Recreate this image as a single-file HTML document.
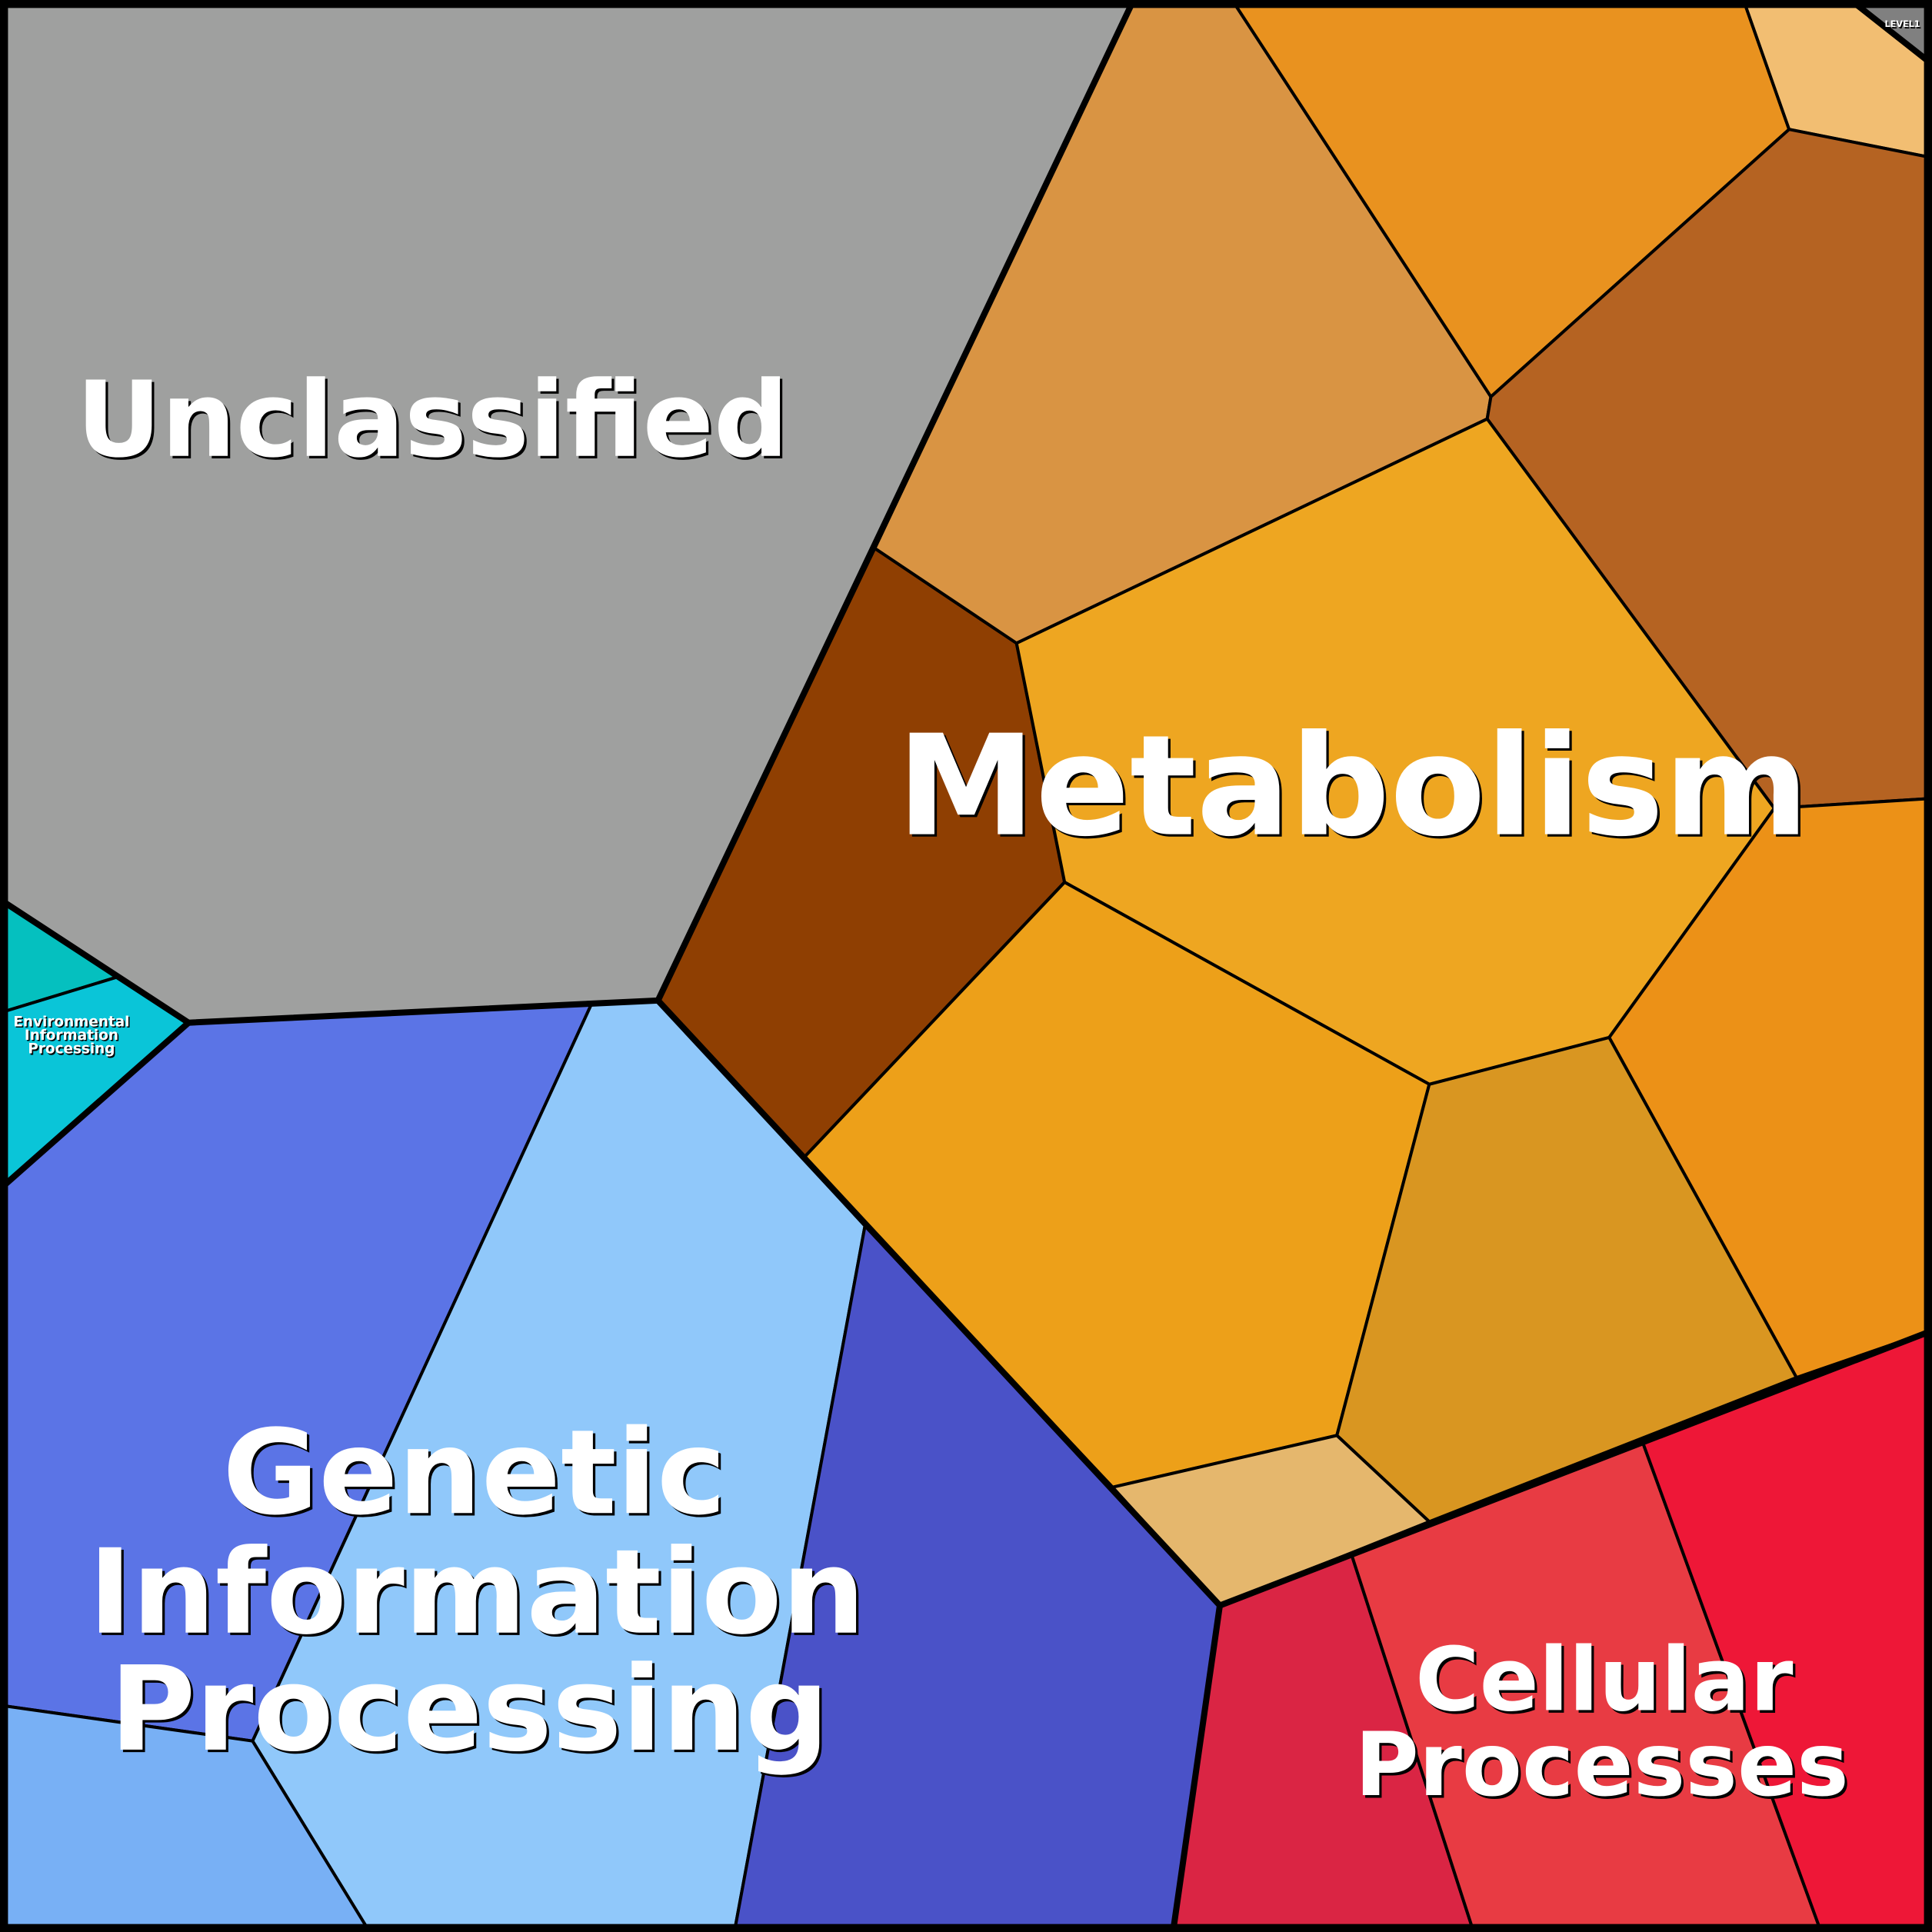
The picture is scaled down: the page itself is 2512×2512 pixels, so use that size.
<!DOCTYPE html>
<html><head><meta charset="utf-8"><style>html,body{margin:0;padding:0;background:#000}svg{display:block}
text{font-family:"DejaVu Sans","Liberation Sans",sans-serif;font-weight:bold;fill:#fff;text-anchor:middle}
.s{fill:#000}</style></head><body>
<svg width="2512" height="2512" viewBox="0 0 1568 1568" xmlns="http://www.w3.org/2000/svg">
<g stroke="#000" stroke-width="2.5" stroke-linejoin="round">
<polygon fill="#9fa09f" points="0,0 920,0 534,812 153,830 0,730"/>
<polygon fill="#05c0bf" points="0,730 95,793 0,822"/>
<polygon fill="#0ac5d8" points="0,822 95,793 153,830 0,965"/>
<polygon fill="#5b74e6" points="153,830 480,815 205,1413 0,1384 0,965"/>
<polygon fill="#90c8fa" points="480,815 534,812 702,995 596,1568 300,1568 205,1413"/>
<polygon fill="#78b0f5" points="0,1384 205,1413 300,1568 0,1568"/>
<polygon fill="#4a52c8" points="702,995 990,1303 952,1568 596,1568"/>
<polygon fill="#8f3f02" points="710,445 825,522 864,716 652,940 534,812"/>
<polygon fill="#d99443" points="920,0 1000,0 1210,322 1207,340 825,522 710,445"/>
<polygon fill="#e9921f" points="1000,0 1415,0 1452,105 1210,322"/>
<polygon fill="#f2be72" points="1415,0 1502,0 1568,52 1568,128 1452,105"/>
<polygon fill="#808080" points="1502,0 1568,0 1568,52"/>
<polygon fill="#b56322" points="1452,105 1568,128 1568,648 1440,656 1207,340 1210,322"/>
<polygon fill="#eea621" points="825,522 1207,340 1440,656 1306,842 1160,880 864,716"/>
<polygon fill="#ec9117" points="1440,656 1568,648 1568,1080 1458,1118 1306,842"/>
<polygon fill="#eda019" points="864,716 1160,880 1085,1165 903,1207 652,940"/>
<polygon fill="#d99621" points="1160,880 1306,842 1458,1118 1160,1235 1085,1165"/>
<polygon fill="#e5b76d" points="903,1207 1085,1165 1160,1235 990,1303"/>
<polygon fill="#da2544" points="990,1303 1097,1262 1196,1568 952,1568"/>
<polygon fill="#e83b43" points="1097,1262 1333,1170 1478,1568 1196,1568"/>
<polygon fill="#ee1737" points="1333,1170 1568,1080 1568,1568 1478,1568"/>
</g>
<g stroke="#000" stroke-width="5" fill="none" stroke-linejoin="round">
<polyline points="920,0 534,812 153,830 0,730"/>
<polyline points="153,830 0,965"/>
<polyline points="534,812 990,1303 952,1568"/>
<polyline points="990,1303 1568,1080"/>
<polyline points="1502,0 1568,52"/>
<rect x="3" y="3" width="1562" height="1562" stroke-width="7"/>
</g>
<g font-size="85"><text class="s" x="353" y="372">Unclassified</text><text x="351" y="370">Unclassified</text></g>
<g font-size="113"><text class="s" x="1100" y="679">Metabolism</text><text x="1098" y="677">Metabolism</text></g>
<g font-size="95"><text class="s" x="387" y="1230">Genetic</text><text x="385" y="1228">Genetic</text>
<text class="s" x="389" y="1327">Information</text><text x="387" y="1325">Information</text>
<text class="s" x="383" y="1422">Processing</text><text x="381" y="1420">Processing</text></g>
<g font-size="71"><text class="s" x="1304" y="1390">Cellular</text><text x="1302" y="1388">Cellular</text>
<text class="s" x="1302" y="1459">Processes</text><text x="1300" y="1457">Processes</text></g>
<g font-size="11.5"><text class="s" x="59" y="834">Environmental</text><text x="58" y="833">Environmental</text>
<text class="s" x="59" y="845">Information</text><text x="58" y="844">Information</text>
<text class="s" x="59" y="856">Processing</text><text x="58" y="855">Processing</text></g>
<g font-size="7"><text class="s" x="1545" y="23">LEVEL1</text><text x="1544" y="22">LEVEL1</text></g>
</svg></body></html>
